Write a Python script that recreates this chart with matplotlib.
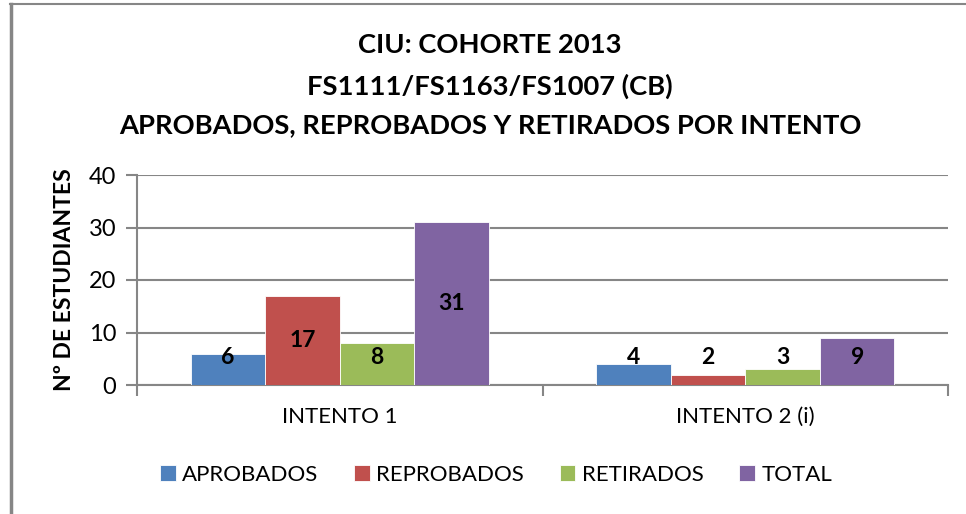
import matplotlib.pyplot as plt
import numpy as np

plt.rcParams['font.family'] = ['Lato', 'DejaVu Sans']

intentos = ['INTENTO 1', 'INTENTO 2 (i)']
series = ['APROBADOS', 'REPROBADOS', 'RETIRADOS', 'TOTAL']
aprobados = [6, 4]
reprobados = [17, 2]
retirados = [8, 3]
total = [31, 9]
colores = ['#4F81BD', '#C0504D', '#9BBB59', '#8064A2']

valores = [aprobados, reprobados, retirados, total]
gris = '#868686'

fig = plt.figure(figsize=(9.66, 5.14), dpi=100)
ax = fig.add_axes([137 / 966, 1 - 385 / 514, (948 - 137) / 966, (385 - 175) / 514])

# borde del grafico (solo izquierda y arriba visibles)
fig.add_artist(plt.Line2D([11 / 966, 11 / 966], [0, 1 - 4 / 514], color=gris, lw=2.5,
                          transform=fig.transFigure))
fig.add_artist(plt.Line2D([10 / 966, 1], [1 - 4 / 514, 1 - 4 / 514], color=gris, lw=1.5,
                          transform=fig.transFigure))

x = np.arange(len(intentos)) + 0.5
ancho = 0.184
for i, (nombre, vals, c) in enumerate(zip(series, valores, colores)):
    pos = x + (i - 1.5) * ancho
    ax.bar(pos, vals, ancho, color=c, label=nombre, edgecolor='white', linewidth=0.6, zorder=3)
    for p, v in zip(pos, vals):
        ax.text(p, max(v / 2, 5.2), str(v), ha='center', va='center',
                fontsize=16.5, fontweight='bold', color='black', zorder=4)

ax.set_xlim(0, 2)
ax.set_ylim(0, 40)
ax.set_yticks([0, 10, 20, 30, 40])
ax.yaxis.grid(True, color=gris, linewidth=1.5, zorder=0)
ax.set_xticks([0, 1, 2])
ax.set_xticklabels([])
ax.set_xticks(x, minor=True)
ax.set_xticklabels(intentos, minor=True, fontsize=16)
ax.tick_params(axis='x', which='minor', length=0, pad=16)
ax.tick_params(axis='x', which='major', length=8, width=1.5, color=gris)
ax.tick_params(axis='y', length=8, width=1.5, color=gris, labelsize=17, pad=7)

for s in ['top', 'right']:
    ax.spines[s].set_visible(False)
for s in ['left', 'bottom']:
    ax.spines[s].set_color(gris)
    ax.spines[s].set_linewidth(1.5)

ax.set_ylabel('Nº DE ESTUDIANTES', fontsize=16.5, fontweight='bold', labelpad=10)

fig.text(490 / 966, 1 - 45 / 514, 'CIU: COHORTE 2013', ha='center', va='center',
         fontsize=19.7, fontweight='bold')
fig.text(490 / 966, 1 - 86 / 514, 'FS1111/FS1163/FS1007 (CB)', ha='center', va='center',
         fontsize=19.7, fontweight='bold')
fig.text(490 / 966, 1 - 125 / 514, 'APROBADOS, REPROBADOS Y RETIRADOS POR INTENTO',
         ha='center', va='center', fontsize=19.7, fontweight='bold')

fig.legend(loc='center', bbox_to_anchor=(496 / 966, 1 - 475 / 514), ncol=4, frameon=False,
           fontsize=16, handlelength=0.7, handleheight=0.7, handletextpad=0.3,
           columnspacing=1.6)

fig.savefig('out.png', dpi=100)
